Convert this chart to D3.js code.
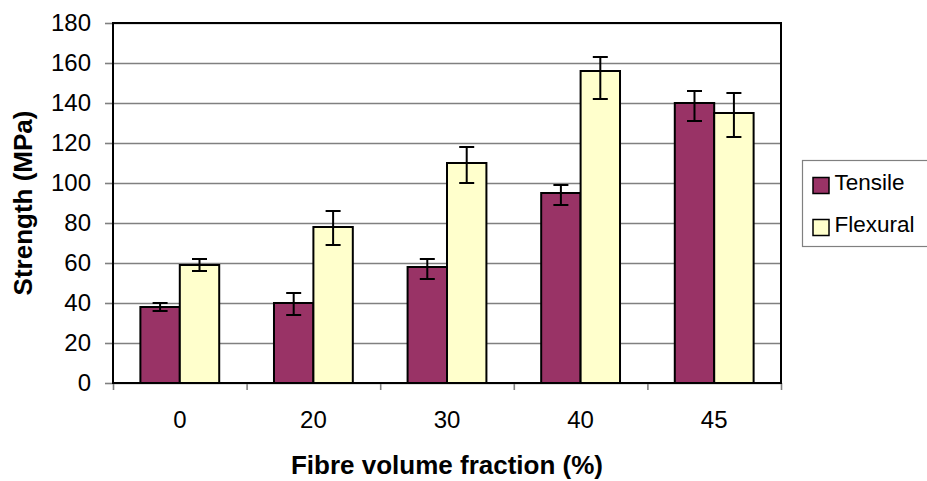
<!DOCTYPE html>
<html>
<head>
<meta charset="utf-8">
<script src="https://cdn.jsdelivr.net/npm/d3@7"></script>
<style>
  body { margin: 0; background: #fff; }
  svg { display: block; }
  text { font-family: "Liberation Sans", Arial, sans-serif; fill: #000; }
</style>
</head>
<body>
<svg id="chart"></svg>
<script>
// data
const categories = ["0", "20", "30", "40", "45"];
const seriesNames = ["Tensile", "Flexural"];
const tensile = [38, 40, 58, 95, 140];
const tensileHigh = [40, 45, 62, 99, 146];
const tensileLow = [36, 34, 52, 89, 131];
const flexural = [59, 78, 110, 156, 135];
const flexuralHigh = [62, 86, 118, 163, 145];
const flexuralLow = [56, 69, 100, 142, 123];
const yTicks = [0, 20, 40, 60, 80, 100, 120, 140, 160, 180];
const colors = ["#993366", "#FFFFCC"];

const width = 927, height = 481;
const plot = { left: 113, right: 781, top: 23, bottom: 383 };

const svg = d3.select("#chart").attr("width", width).attr("height", height);

const rows = categories.map((c, i) => ({
  cat: c,
  values: [
    { key: "Tensile", v: tensile[i], lo: tensileLow[i], hi: tensileHigh[i] },
    { key: "Flexural", v: flexural[i], lo: flexuralLow[i], hi: flexuralHigh[i] }
  ]
}));

// Scales
const y = d3.scaleLinear().domain([0, 180]).range([plot.bottom, plot.top]);
const x0 = d3.scaleBand().domain(categories).range([plot.left, plot.right])
  .paddingInner(0.41).paddingOuter(0.205);
const x1 = d3.scaleBand().domain(seriesNames).range([0, x0.bandwidth()]);
const color = d3.scaleOrdinal().domain(seriesNames).range(colors);
const edges = d3.scaleLinear().domain([0, categories.length]).range([plot.left, plot.right]);

// Gridlines
svg.append("g")
  .attr("transform", `translate(${plot.left},0)`)
  .call(d3.axisLeft(y).tickValues(yTicks).tickSize(-(plot.right - plot.left)).tickFormat(""))
  .call(g => g.select(".domain").remove())
  .selectAll("line").attr("stroke", "#808080").attr("stroke-width", 1.6);

// Y axis
const yAxis = svg.append("g")
  .attr("transform", `translate(${plot.left},0)`)
  .call(d3.axisLeft(y).tickValues(yTicks).tickSize(8).tickPadding(14));
yAxis.select(".domain").remove();
yAxis.selectAll("line").attr("stroke", "#808080").attr("stroke-width", 1.6);
yAxis.selectAll("text").attr("font-size", 24).attr("font-family", "Liberation Sans, Arial, sans-serif");

// X axis: category edge ticks and centered labels
svg.append("g")
  .attr("transform", `translate(0,${plot.bottom})`)
  .call(d3.axisBottom(edges).tickValues(d3.range(categories.length + 1)).tickSize(7).tickFormat(""))
  .call(g => g.select(".domain").remove())
  .selectAll("line").attr("stroke", "#808080").attr("stroke-width", 1.6);

const xAxis = svg.append("g")
  .attr("transform", `translate(0,${plot.bottom})`)
  .call(d3.axisBottom(x0).tickSize(0).tickPadding(28));
xAxis.select(".domain").remove();
xAxis.selectAll("text").attr("font-size", 24).attr("font-family", "Liberation Sans, Arial, sans-serif");

// Frame
svg.append("rect")
  .attr("x", plot.left).attr("y", plot.top)
  .attr("width", plot.right - plot.left).attr("height", plot.bottom - plot.top)
  .attr("fill", "none").attr("stroke", "#000").attr("stroke-width", 2);

// Bars
const groups = svg.selectAll(".grp")
  .data(rows)
  .enter()
  .append("g")
  .attr("class", "grp")
  .attr("transform", d => `translate(${x0(d.cat)},0)`);

groups.selectAll("rect")
  .data(d => d.values)
  .enter()
  .append("rect")
  .attr("x", d => x1(d.key))
  .attr("y", d => y(d.v))
  .attr("width", x1.bandwidth())
  .attr("height", d => y(0) - y(d.v))
  .attr("fill", d => color(d.key))
  .attr("stroke", "#000")
  .attr("stroke-width", 2);

// Error bars
const capHalf = 7.5;
const err = groups.selectAll(".err")
  .data(d => d.values)
  .enter()
  .append("g")
  .attr("class", "err")
  .attr("transform", d => `translate(${x1(d.key) + x1.bandwidth() / 2},0)`)
  .attr("stroke", "#000")
  .attr("stroke-width", 2);
err.append("line").attr("x1", 0).attr("x2", 0).attr("y1", d => y(d.lo)).attr("y2", d => y(d.hi));
err.append("line").attr("x1", -capHalf).attr("x2", capHalf).attr("y1", d => y(d.hi)).attr("y2", d => y(d.hi));
err.append("line").attr("x1", -capHalf).attr("x2", capHalf).attr("y1", d => y(d.lo)).attr("y2", d => y(d.lo));

// Axis titles
svg.append("text")
  .attr("transform", `translate(32,${(plot.top + plot.bottom) / 2}) rotate(-90)`)
  .attr("text-anchor", "middle")
  .attr("font-size", 26)
  .attr("font-weight", "bold")
  .text("Strength (MPa)");

svg.append("text")
  .attr("x", (plot.left + plot.right) / 2)
  .attr("y", 474)
  .attr("text-anchor", "middle")
  .attr("font-size", 26)
  .attr("font-weight", "bold")
  .text("Fibre volume fraction (%)");

// Legend
const legend = svg.append("g").attr("transform", "translate(802.5,160.5)");
legend.append("rect")
  .attr("width", 140).attr("height", 86)
  .attr("fill", "#fff").attr("stroke", "#808080").attr("stroke-width", 1.2);
const items = legend.selectAll(".item")
  .data(seriesNames)
  .enter()
  .append("g")
  .attr("class", "item")
  .attr("transform", (d, i) => `translate(0,${i * 42})`);
items.append("rect")
  .attr("x", 10.5).attr("y", 17)
  .attr("width", 16).attr("height", 16)
  .attr("fill", d => color(d))
  .attr("stroke", "#000").attr("stroke-width", 1.5);
items.append("text")
  .attr("x", 32).attr("y", 29)
  .attr("font-size", 22.5)
  .text(d => d);
</script>
</body>
</html>
